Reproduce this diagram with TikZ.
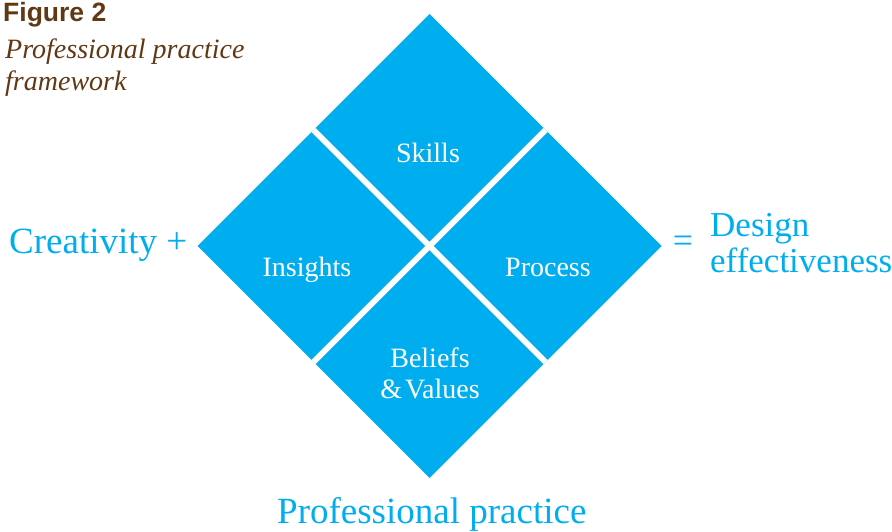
\documentclass[tikz,border=0pt]{standalone}
\usepackage{fontspec}
\usetikzlibrary{calc}
\setmainfont{Liberation Serif}
\newfontfamily\headfont{Liberation Sans}
\definecolor{dblue}{HTML}{00AEEF}
\definecolor{dbrown}{HTML}{603813}
\begin{document}
\begin{tikzpicture}[x=1pt,y=-1pt,
  inlabel/.style={text=white,font=\fontsize{28}{31}\selectfont,inner sep=0pt,anchor=base},
  bigtext/.style={text=dblue,font=\fontsize{35}{36}\selectfont,inner sep=0pt,anchor=base west},
  gapline/.style={white,line width=6pt,line cap=butt}]
\useasboundingbox (0,0) rectangle (892,532);
% main diamond
\coordinate (c) at (429.5,246);
\coordinate (t) at (429.5,14);
\coordinate (r) at (661.5,246);
\coordinate (b) at (429.5,478);
\coordinate (l) at (197.5,246);
\fill[dblue] (t) -- (r) -- (b) -- (l) -- cycle;
\coordinate (ul) at ($(t)!0.5!(l)$);
\coordinate (lr) at ($(b)!0.5!(r)$);
\coordinate (ur) at ($(t)!0.5!(r)$);
\coordinate (ll) at ($(b)!0.5!(l)$);
\draw[gapline] (ul) -- (lr);
\draw[gapline] (ur) -- (ll);
% labels in diamonds
\node[inlabel] (skills) at (428,163) {Skills};
\node[inlabel] (insights) at (307,276) {Insights};
\node[inlabel] (process) at (548,276) {Process};
\node[inlabel] (beliefs) at (430,367) {Beliefs};
\node[inlabel] (values) at (430,398) {\&\kern3pt Values};
% surrounding text
\node[bigtext,font=\fontsize{37}{38}\selectfont] (creat) at (9,253) {Creativity +};
\node[text=dblue,font=\fontsize{36}{36}\selectfont,inner sep=0pt] (eq) at (683,244) {=};
\node[bigtext] (design) at (710,236) {Design};
\node[bigtext] (effect) at (710,272) {effectiveness};
\node[bigtext,font=\fontsize{37}{38}\selectfont] (pp) at (277,523) {Professional practice};
% title
\node[text=dbrown,font=\headfont\bfseries\fontsize{26.5}{30}\selectfont,inner sep=0pt,anchor=base west] (fig) at (3,22) {Figure 2};
\node[text=dbrown,font=\itshape\fontsize{28}{30}\selectfont,inner sep=0pt,anchor=base west] (sub1) at (5,59) {Professional practice};
\node[text=dbrown,font=\itshape\fontsize{28}{30}\selectfont,inner sep=0pt,anchor=base west] (sub2) at (5,91) {framework};
\end{tikzpicture}
\end{document}
